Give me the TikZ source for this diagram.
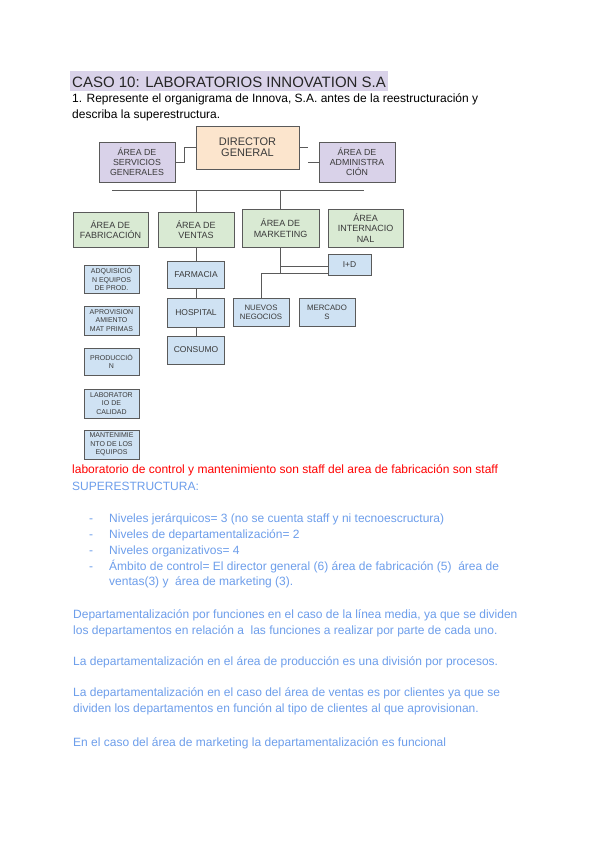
\documentclass[tikz,border=0pt]{standalone}
\usepackage{fontspec}
\setmainfont{Liberation Sans}
\definecolor{peach}{HTML}{FCE5CD}
\definecolor{lav}{HTML}{D9D2E9}
\definecolor{lgreen}{HTML}{D9EAD3}
\definecolor{lblue}{HTML}{CFE2F3}
\definecolor{bord}{HTML}{5A5A5A}
\definecolor{btext}{HTML}{3A3A3A}
\definecolor{cblue}{HTML}{6D9EEB}
\definecolor{hl}{HTML}{D9D2E9}
\tikzset{
  bx/.style={draw=bord, line width=0.9pt, inner sep=0pt, align=center, text=btext, font=\fontsize{9}{10}\selectfont},
  lv1/.style={bx, fill=peach, font=\fontsize{11}{11}\selectfont},
  stf/.style={bx, fill=lav, font=\fontsize{8.8}{10.2}\selectfont},
  lv2/.style={bx, fill=lgreen, font=\fontsize{9}{10.5}\selectfont},
  lv3/.style={bx, fill=lblue, font=\fontsize{7}{8.5}\selectfont},
  lv3m/.style={bx, fill=lblue, font=\fontsize{7.8}{9}\selectfont},
  lv3b/.style={bx, fill=lblue, font=\fontsize{8.5}{9}\selectfont},
  conn/.style={draw=bord, line width=0.8pt},
  txt/.style={anchor=base west, inner sep=0pt, font=\fontsize{12}{12}\selectfont},
  btxt/.style={txt, text=cblue},
}
\begin{document}
\begin{tikzpicture}[x=1pt,y=-1pt]
\useasboundingbox[fill=white] (0,0) rectangle (600,848);
% title
\fill[hl] (70,71) rectangle (388,91);
\node[txt, font=\fontsize{15}{15}\selectfont, text=black!85] (title) at (72,87.7) {CASO 10: LABORATORIOS INNOVATION S.A};
\node[txt] (q1a) at (72,102.7) {1. Represente el organigrama de Innova, S.A. antes de la reestructuración y};
\node[txt] (q1b) at (72,118.5) {describa la superestructura.};

% top level
\node[lv1, minimum width=103, minimum height=43] (dg) at (247.5,147.5) {DIRECTOR\\GENERAL};
\node[stf, minimum width=76, minimum height=40] (sg) at (137,162) {ÁREA DE\\SERVICIOS\\GENERALES};
\node[stf, minimum width=76, minimum height=40] (adm) at (357,162) {ÁREA DE\\ADMINISTRA\\CIÓN};
\draw[conn] (dg.west) -- ++(-11,0) |- (sg.east);
\draw[conn] (dg.east) -- ++(9,0);
\draw[conn] (adm.west) -- ++(-11,0);

% bus
\coordinate (busL) at (112,190);
\coordinate (busR) at (364,190);
\draw[conn] (busL) -- (busR);

% level 2
\node[lv2, minimum width=75, minimum height=35] (fab) at (110.5,229.5) {ÁREA DE\\FABRICACIÓN};
\node[lv2, minimum width=76, minimum height=35] (ven) at (196,229.5) {ÁREA DE\\VENTAS};
\node[lv2, minimum width=77, minimum height=38] (mkt) at (280.5,228) {ÁREA DE\\MARKETING};
\node[lv2, minimum width=75, minimum height=38] (int) at (365.5,228) {ÁREA\\INTERNACIO\\NAL};
\draw[conn] (ven.north |- busL) -- (ven.north);
\draw[conn] (mkt.north |- busL) -- (mkt.north);

% fabricacion column
\node[lv3, minimum width=55, minimum height=28] (adq) at (111.5,279) {ADQUISICIÓ\\N EQUIPOS\\DE PROD.};
\node[lv3, minimum width=55, minimum height=29] (apr) at (111.5,320.5) {APROVISION\\AMIENTO\\MAT PRIMAS};
\node[lv3, minimum width=55, minimum height=27] (pro) at (111.5,361.5) {PRODUCCIÓ\\N};
\node[lv3, minimum width=55, minimum height=29] (lab) at (111.5,403.5) {LABORATOR\\IO DE\\CALIDAD};
\node[lv3, minimum width=55, minimum height=29] (man) at (111.5,444.5) {MANTENIMIE\\NTO DE LOS\\EQUIPOS};

% ventas column
\node[lv3b, minimum width=57, minimum height=27] (far) at (196,274.5) {FARMACIA};
\node[lv3b, minimum width=57, minimum height=29] (hos) at (196,312.5) {HOSPITAL};
\node[lv3b, minimum width=57, minimum height=28] (con) at (196,350) {CONSUMO};
\draw[conn] (ven.south) -- (far.north);
\draw[conn] (far.south) -- (hos.north);
\draw[conn] (hos.south) -- (con.north);

% marketing
\node[lv3b, minimum width=43, minimum height=21] (id) at (349.5,264.5) {I+D};
\node[lv3m, minimum width=56, minimum height=28] (nn) at (261,312) {NUEVOS\\NEGOCIOS};
\node[lv3m, minimum width=56, minimum height=28] (mer) at (327,312) {MERCADO\\S};
\coordinate (mk) at (280.5,266);
\coordinate (mj) at (280.5,273);
\draw[conn] (mkt.south) -- (mj);
\draw[conn] (mk) -- (mk -| id.west);
\draw[conn] (nn.north) |- (mj -| id.west);

% text
\node[txt, text=red] (red) at (72,473.3) {laboratorio de control y mantenimiento son staff del area de fabricación son staff};
\node[btxt] (sup) at (72,490) {SUPERESTRUCTURA:};
\foreach \yy/\tt [count=\i] in {522.7/{Niveles jerárquicos= 3 (no se cuenta staff y ni tecnoescructura)},
  538.3/{Niveles de departamentalización= 2},
  554.3/{Niveles organizativos= 4},
  570/{Ámbito de control= El director general (6) área de fabricación (5)\ \ área de}}{
  \node[btxt] (d\i) at (89,\yy) {-};
  \node[btxt] (b\i) at (109,\yy) {\tt};
}
\node[btxt] (b5) at (109,585.5) {ventas(3) y\ \ área de marketing (3).};

\node[btxt] (p1a) at (73,618.3) {Departamentalización por funciones en el caso de la línea media, ya que se dividen};
\node[btxt] (p1b) at (73,634) {los departamentos en relación a\ \ las funciones a realizar por parte de cada uno.};
\node[btxt] (p2) at (73,665) {La departamentalización en el área de producción es una división por procesos.};
\node[btxt] (p3a) at (73,696.7) {La departamentalización en el caso del área de ventas es por clientes ya que se};
\node[btxt] (p3b) at (73,712.7) {dividen los departamentos en función al tipo de clientes al que aprovisionan.};
\node[btxt] (p4) at (73,746) {En el caso del área de marketing la departamentalización es funcional};
\end{tikzpicture}
\end{document}
